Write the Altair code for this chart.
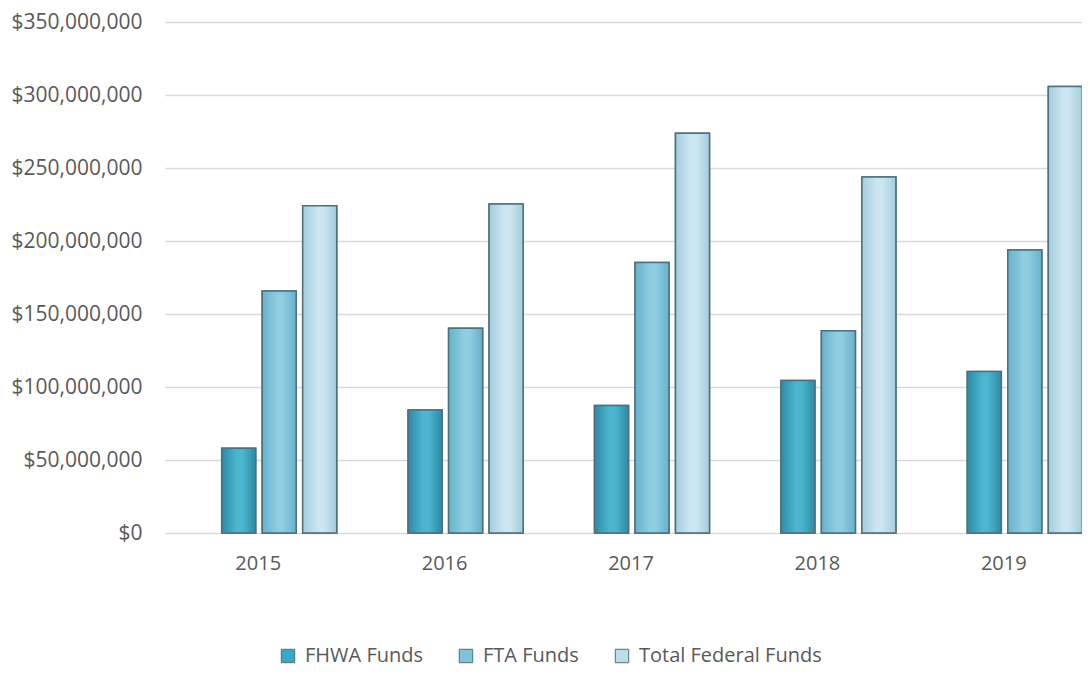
import altair as alt
import pandas as pd

years = ["2015", "2016", "2017", "2018", "2019"]
series = ["FHWA Funds", "FTA Funds", "Total Federal Funds"]
fhwa = [58_000_000, 84_200_000, 87_400_000, 104_500_000, 110_700_000]
fta = [165_800_000, 140_200_000, 185_300_000, 138_600_000, 193_800_000]
total = [224_200_000, 225_300_000, 273_800_000, 243_800_000, 305_800_000]
y_ticks = [0, 50_000_000, 100_000_000, 150_000_000, 200_000_000,
           250_000_000, 300_000_000, 350_000_000]

colors = ["#3ba8c5", "#7fc4db", "#bcdeeb"]
grad_stops = [
    ("#2d8aa4", "#4cb6d1"),
    ("#65b2cc", "#8fcde2"),
    ("#a3cddd", "#cce6f1"),
]

rows = []
for s, vals in zip(series, [fhwa, fta, total]):
    for y, v in zip(years, vals):
        rows.append({"year": y, "series": s, "value": v})
df = pd.DataFrame(rows)

FONT = "Open Sans"
TXT = "#595959"

x_enc = alt.X("year:N", sort=years,
              scale=alt.Scale(range=[0, 932], paddingInner=0, paddingOuter=0),
              axis=alt.Axis(title=None, domain=False, ticks=False, labelAngle=0,
                            labelPadding=20, labelFontSize=20, labelFont=FONT,
                            labelColor=TXT))
xo_enc = alt.XOffset("series:N", sort=series,
                     scale=alt.Scale(range=[56.7, 171.7], paddingInner=0.16,
                                     paddingOuter=0))
y_enc = alt.Y("value:Q",
              scale=alt.Scale(domain=[0, 350_000_000], nice=False),
              axis=alt.Axis(title=None, values=y_ticks, format="$,.0f",
                            domain=False, ticks=False, labelPadding=23,
                            labelFontSize=21, labelFont=FONT, labelColor=TXT,
                            grid=True, gridColor="#d9d9d9", gridWidth=1.4))

base = alt.Chart(df).mark_bar(stroke="#4f6f7a", strokeWidth=1.5).encode(
    x=x_enc, xOffset=xo_enc, y=y_enc,
    color=alt.Color("series:N", sort=series,
                    scale=alt.Scale(domain=series, range=colors),
                    legend=alt.Legend(title=None, orient="none", direction="horizontal",
                                      legendX=113, legendY=624,
                                      symbolType="square", symbolSize=180,
                                      symbolStrokeColor="#4f6f7a", symbolStrokeWidth=1,
                                      labelFont=FONT, labelFontSize=20,
                                      labelColor=TXT, labelOffset=7,
                                      labelLimit=400, columnPadding=33)),
)

layers = [base]
for s, (edge, mid) in zip(series, grad_stops):
    g = alt.Gradient(gradient="linear", x1=0, x2=1, y1=0, y2=0,
                     stops=[alt.GradientStop(color=edge, offset=0),
                            alt.GradientStop(color=mid, offset=0.45),
                            alt.GradientStop(color=mid, offset=0.6),
                            alt.GradientStop(color=edge, offset=1)])
    layers.append(
        alt.Chart(df).transform_filter(alt.datum.series == s)
        .mark_bar(fill=g, stroke="#4f6f7a", strokeWidth=1.5)
        .encode(x=x_enc, xOffset=xo_enc, y=y_enc)
    )

chart = alt.layer(*layers).properties(
    width=917, height=511,
    background="white",
    autosize=alt.AutoSizeParams(type="none"),
    padding={"left": 157, "top": 14, "right": 0, "bottom": 137},
).configure_view(stroke=None)

chart.save("out.html", embed_options={"renderer": "svg", "actions": False})
